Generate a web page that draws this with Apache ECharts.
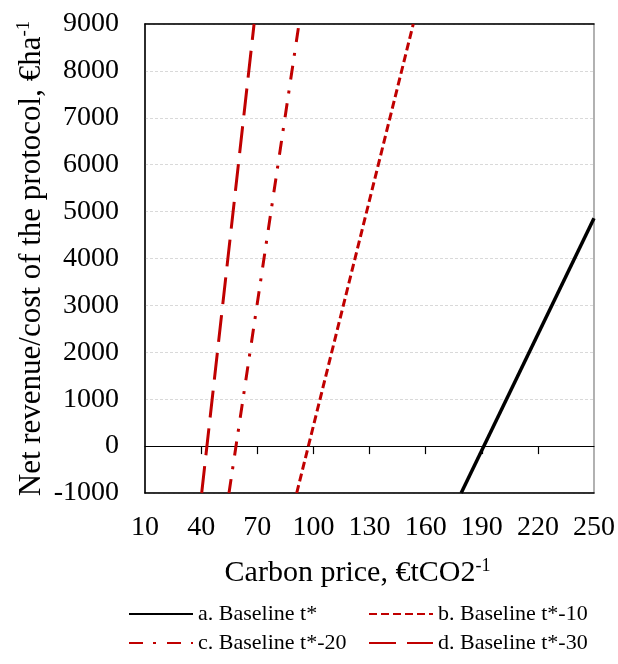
<!DOCTYPE html>
<html>
<head>
<meta charset="utf-8">
<script src="https://cdn.jsdelivr.net/npm/echarts@6/dist/echarts.min.js"></script>
<style>
  html, body { margin: 0; padding: 0; background: #fff; }
  #chart { width: 618px; height: 664px; }
</style>
</head>
<body>
<div id="chart"></div>
<script>
// Net revenue / cost of the protocol against carbon price, four baselines.
// Each scenario is a straight line given by its two end points [price, revenue].
const seriesNames = ['a. Baseline t*', 'b. Baseline t*-10', 'c. Baseline t*-20', 'd. Baseline t*-30'];
const baselineA = [[179, -1000], [250, 4860]];
const baselineB = [[91.1, -1000], [153.4, 9000]];
const baselineC = [[54.9, -1000], [92.3, 9000]];
const baselineD = [[40.3, -1000], [68.3, 9000]];

const xTickLabels = [10, 40, 70, 100, 130, 160, 190, 220, 250];
const zeroLineTicks = [40, 70, 100, 130, 160, 190, 220];
const yMin = -1000, yMax = 9000, yStep = 1000;

const serif = "'Liberation Serif', 'Times New Roman', serif";
const red = '#c00000';

const chart = echarts.init(document.getElementById('chart'), null, { renderer: 'canvas' });

function supName(main, sup, size, lh) {
  return {
    text: '{n|' + main + '}{s|' + sup + '}',
    rich: {
      n: { fontFamily: serif, fontSize: size, color: '#000', lineHeight: lh },
      s: { fontFamily: serif, fontSize: Math.round(size * 0.6), color: '#000', lineHeight: Math.round(size * 0.6), verticalAlign: 'top' }
    }
  };
}

const xName = supName('Carbon price, €tCO2', '-1', 30, 32);
const yName = supName('Net revenue/cost of the protocol, €ha', '-1', 31, 33);

function legendAt(name, left, top) {
  return {
    data: [name],
    left: left,
    top: top,
    padding: 0,
    orient: 'horizontal',
    itemWidth: 64,
    itemHeight: 14,
    itemGap: 0,
    selectedMode: false,
    itemStyle: { opacity: 0, borderWidth: 0 },
    textStyle: { fontFamily: serif, fontSize: 22, color: '#000' }
  };
}

function lineSeries(name, data, color, width, type) {
  return {
    name: name,
    type: 'line',
    data: data,
    symbol: 'none',
    showSymbol: false,
    silent: true,
    animation: false,
    clip: true,
    lineStyle: { color: color, width: width, type: type, cap: 'butt' },
    itemStyle: { color: color }
  };
}

const option = {
  backgroundColor: '#fff',
  animation: false,
  grid: {
    left: 145, right: 24, top: 24, bottom: 171,
    show: true, borderColor: '#7f7f7f', borderWidth: 1.2, backgroundColor: 'transparent'
  },
  legend: [
    legendAt(seriesNames[0], 128, 603),
    legendAt(seriesNames[1], 368, 603),
    legendAt(seriesNames[2], 128, 632),
    legendAt(seriesNames[3], 368, 632)
  ],
  xAxis: [
    {
      // bottom axis: frame edge, value labels and axis title
      type: 'value', min: xTickLabels[0], max: xTickLabels[xTickLabels.length - 1],
      position: 'bottom',
      axisLine: { show: true, onZero: false, lineStyle: { color: '#000', width: 1.5 } },
      axisTick: { show: false },
      splitLine: { show: false },
      axisLabel: {
        customValues: xTickLabels,
        margin: 21, fontFamily: serif, fontSize: 28, color: '#000'
      },
      name: xName.text,
      nameLocation: 'middle',
      nameGap: 64,
      nameMoveOverlap: false,
      nameTextStyle: { rich: xName.rich, padding: [0, 24, 0, 0] }
    },
    {
      // zero line with downward ticks
      type: 'value', min: xTickLabels[0], max: xTickLabels[xTickLabels.length - 1],
      position: 'bottom',
      axisLine: { show: true, onZero: true, lineStyle: { color: '#000', width: 1.2 } },
      axisTick: { show: true, inside: false, length: 8, customValues: zeroLineTicks, lineStyle: { color: '#000', width: 1.2 } },
      axisLabel: { show: false },
      splitLine: { show: false }
    },
    {
      // top frame edge
      type: 'value', min: xTickLabels[0], max: xTickLabels[xTickLabels.length - 1],
      position: 'top',
      axisLine: { show: true, onZero: false, lineStyle: { color: '#000', width: 1.5 } },
      axisTick: { show: false },
      axisLabel: { show: false },
      splitLine: { show: false }
    }
  ],
  yAxis: {
    type: 'value', min: yMin, max: yMax, interval: yStep,
    axisLine: { show: true, onZero: false, lineStyle: { color: '#000', width: 1.5 } },
    axisTick: { show: false },
    axisLabel: {
      margin: 26, fontFamily: serif, fontSize: 28, color: '#000',
      formatter: function (v) { return String(v); }
    },
    splitLine: { show: true, lineStyle: { color: '#d9d9d9', width: 1, type: [3, 2] } },
    name: yName.text,
    nameLocation: 'middle',
    nameRotate: 90,
    nameGap: 97,
    nameMoveOverlap: false,
    nameTextStyle: { rich: yName.rich }
  },
  series: [
    lineSeries(seriesNames[0], baselineA, '#000', 3.5, 'solid'),
    lineSeries(seriesNames[1], baselineB, red, 3, [8, 4]),
    lineSeries(seriesNames[2], baselineC, red, 3, [14, 10, 3, 11]),
    lineSeries(seriesNames[3], baselineD, red, 3, [27, 11])
  ]
};

chart.setOption(option);
</script>
</body>
</html>
